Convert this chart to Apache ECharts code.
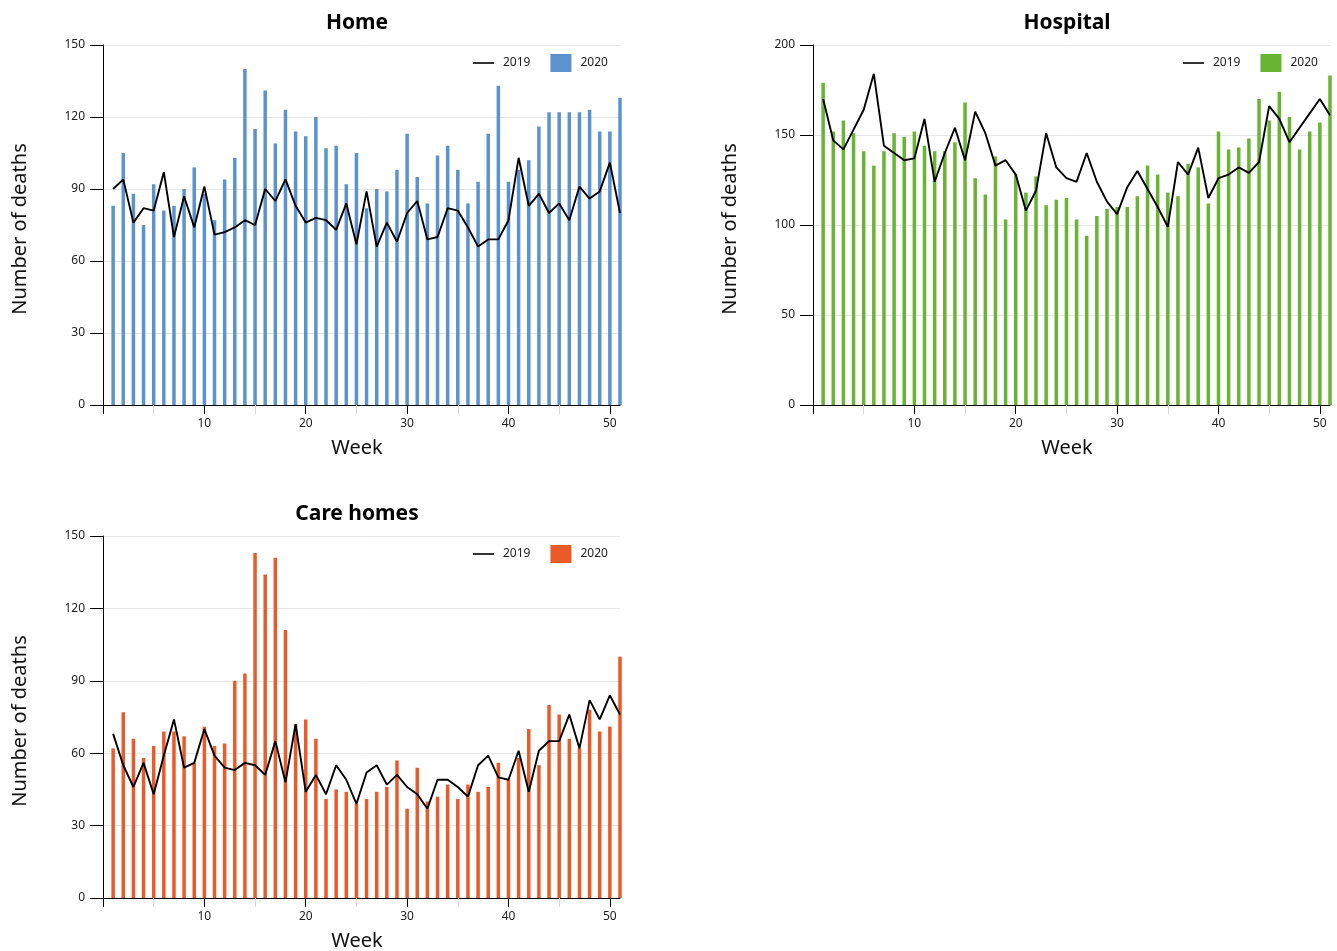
<!DOCTYPE html>
<html>
<head>
<meta charset="utf-8">
<script src="https://cdn.jsdelivr.net/npm/echarts@6.0.0/dist/echarts.min.js"></script>
<style>
  html, body { margin: 0; padding: 0; background: #ffffff; }
  #chart { width: 1337px; height: 951px; }
</style>
</head>
<body>
<div id="chart"></div>
<script>
// ---- Data ----
const weeks = [1,2,3,4,5,6,7,8,9,10,11,12,13,14,15,16,17,18,19,20,21,22,23,24,25,26,27,28,29,30,31,32,33,34,35,36,37,38,39,40,41,42,43,44,45,46,47,48,49,50,51];

const home2020 = [83,105,88,75,92,81,83,90,99,88,77,94,103,140,115,131,109,123,114,112,120,107,108,92,105,82,90,89,98,113,95,84,104,108,98,84,93,113,133,93,98,102,116,122,122,122,122,123,114,114,128];
const home2019 = [90,94,76,82,81,97,70,87,74,91,71,72,74,77,75,90,85,94,83,76,78,77,73,84,67,89,66,76,68,80,85,69,70,82,81,74,66,69,69,77,103,83,88,80,84,77,91,86,89,101,80];

const hospital2020 = [179,152,158,151,141,133,141,151,149,152,144,141,141,146,168,126,117,138,103,128,118,127,111,114,115,103,94,105,109,110,110,116,133,128,118,116,134,132,112,152,142,143,148,170,158,174,160,142,152,157,183];
const hospital2019 = [170,147,142,153,164,184,144,140,136,137,159,124,140,154,136,163,151,133,136,128,108,119,151,132,126,124,140,124,113,106,121,130,120,110,99,135,128,143,115,126,128,132,129,135,166,159,146,154,162,170,161];

const care2020 = [62,77,66,58,63,69,69,67,56,71,63,64,90,93,143,134,141,111,72,74,66,41,45,44,39,41,44,46,57,37,54,40,42,47,41,47,44,46,56,49,58,70,55,80,76,66,62,78,69,71,100];
const care2019 = [68,55,46,56,43,59,74,54,56,70,59,54,53,56,55,51,65,48,72,44,51,43,55,49,39,52,55,47,51,46,43,37,49,49,46,42,55,59,50,49,61,44,61,65,65,76,62,82,74,84,76];

const weekTicks = [0,10,20,30,40,50];
const weekLabels = [10,20,30,40,50];
const weekMinorTicks = [5,15,25,35,45];

const panelTitles = ['Home', 'Hospital', 'Care homes'];
const seriesNames = ['2019', '2020'];

// ---- Layout / style ----
const FONT = '"Noto Sans", "Open Sans", sans-serif';
const panels = [
  { title: panelTitles[0], left: 103, top: 45, width: 517, height: 360, yMax: 150, yInt: 30, color: '#5B93D1', bars: home2020, line: home2019 },
  { title: panelTitles[1], left: 813, top: 45, width: 517, height: 360, yMax: 200, yInt: 50, color: '#69B433', bars: hospital2020, line: hospital2019 },
  { title: panelTitles[2], left: 103, top: 536, width: 517, height: 362, yMax: 150, yInt: 30, color: '#EB5A29', bars: care2020, line: care2019 }
];

const grid = [], xAxis = [], yAxis = [], series = [], legend = [], graphic = [];

panels.forEach((p, i) => {
  grid.push({ left: p.left, top: p.top, width: p.width, height: p.height, containLabel: false });

  xAxis.push({
    gridIndex: i, type: 'value', min: 0, max: 51, position: 'bottom',
    axisLine: { show: true, lineStyle: { color: '#000', width: 1 } },
    axisTick: { show: true, length: 9, customValues: weekTicks, lineStyle: { color: '#000', width: 1 } },
    axisLabel: { show: true, customValues: weekLabels, margin: 13, fontSize: 12, color: '#222', fontFamily: FONT },
    splitLine: { show: false }
  });
  // minor ticks axis (same scale)
  xAxis.push({
    gridIndex: i, type: 'value', min: 0, max: 51, position: 'bottom', offset: 0,
    axisLine: { show: false },
    axisTick: { show: true, length: 9, customValues: weekMinorTicks, lineStyle: { color: '#d9d9d9', width: 1 } },
    axisLabel: { show: false },
    splitLine: { show: false }
  });

  yAxis.push({
    gridIndex: i, type: 'value', min: 0, max: p.yMax, interval: p.yInt,
    axisLine: { show: true, lineStyle: { color: '#000', width: 1 } },
    axisTick: { show: true, length: 13, lineStyle: { color: '#000', width: 1 } },
    axisLabel: { margin: 18, fontSize: 12, color: '#222', fontFamily: FONT },
    splitLine: { show: true, lineStyle: { color: '#e8e8e8', width: 1 } }
  });

  series.push({
    name: seriesNames[1], type: 'bar', xAxisIndex: i * 2, yAxisIndex: i,
    data: weeks.map((w, k) => [w, p.bars[k]]),
    barWidth: 3.5, clip: false,
    itemStyle: { color: p.color },
    emphasis: { disabled: true },
    z: 2
  });
  series.push({
    name: seriesNames[0], type: 'line', xAxisIndex: i * 2, yAxisIndex: i,
    data: weeks.map((w, k) => [w, p.line[k]]),
    symbol: 'none', clip: false,
    lineStyle: { color: '#000', width: 1.9 },
    itemStyle: { color: '#000' },
    emphasis: { disabled: true },
    z: 3
  });

  legend.push({
    left: p.left + 370, top: p.top + 9, padding: 0,
    itemWidth: 21, itemHeight: 18, itemGap: 20,
    data: [
      { name: seriesNames[0], icon: 'path://M0,0 L21,0 L21,1.6 L0,1.6 Z', itemStyle: { color: '#000' } },
      { name: seriesNames[1], icon: 'rect', itemStyle: { color: p.color } }
    ],
    textStyle: { fontSize: 12, color: '#222', fontFamily: FONT, padding: [0, 0, 0, 4] },
    selectedMode: false
  });

  const cx = p.left === 103 ? 357 : 1067;
  graphic.push({
    type: 'text', x: cx, y: p.top - 22,
    style: { text: p.title, font: 'bold 21px ' + FONT, fill: '#000', textAlign: 'center', textVerticalAlign: 'middle' }
  });
  graphic.push({
    type: 'text', x: cx, y: p.top + p.height + 43,
    style: { text: 'Week', font: '20px ' + FONT, fill: '#111', textAlign: 'center', textVerticalAlign: 'middle' }
  });
  graphic.push({
    type: 'text', x: p.left - 83, y: p.top + p.height / 2 + 4, rotation: Math.PI / 2,
    style: { text: 'Number of deaths', font: '20px ' + FONT, fill: '#111', textAlign: 'center', textVerticalAlign: 'middle' }
  });
});

const chart = echarts.init(document.getElementById('chart'), null, { renderer: 'canvas' });
chart.setOption({
  animation: false,
  backgroundColor: '#ffffff',
  textStyle: { fontFamily: FONT },
  grid, xAxis, yAxis, series, legend, graphic
});
</script>
</body>
</html>
